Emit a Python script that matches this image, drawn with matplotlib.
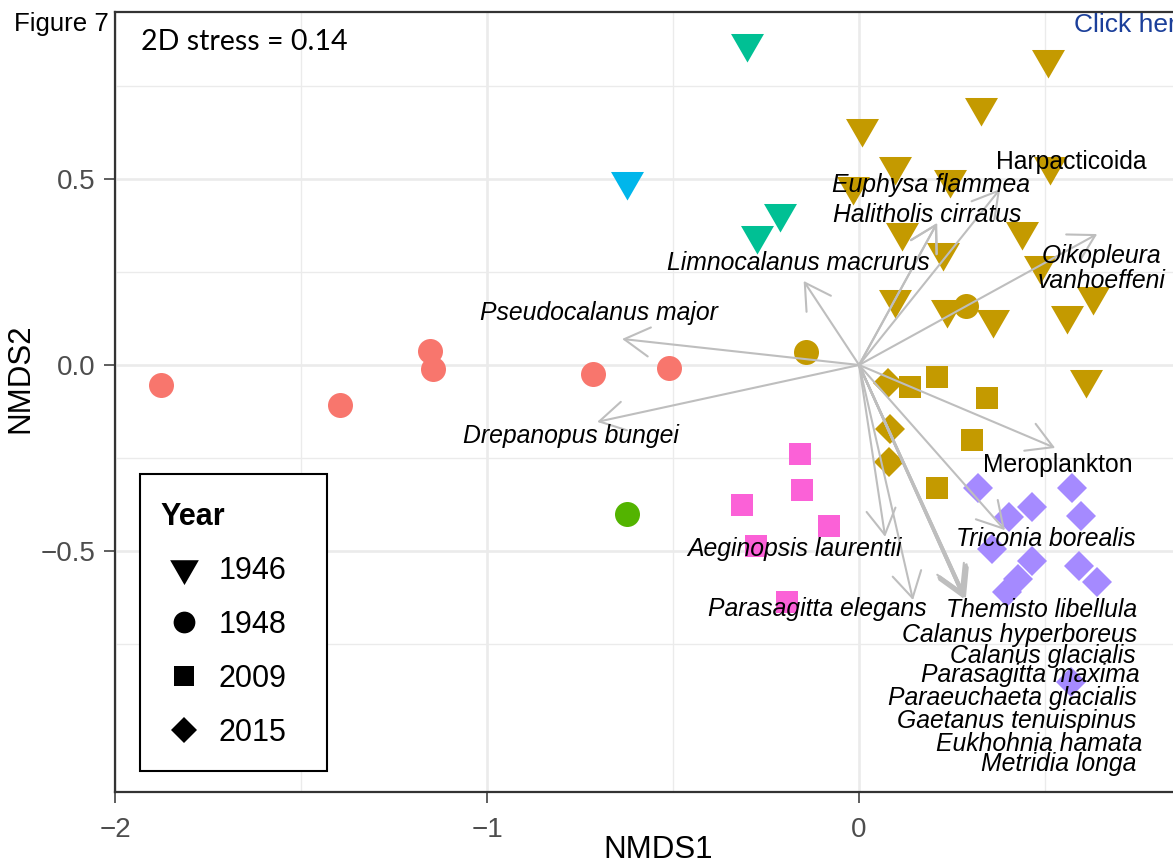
import numpy as np
import matplotlib
matplotlib.use("Agg")
import matplotlib.pyplot as plt
from matplotlib.lines import Line2D
from matplotlib.path import Path
from matplotlib.patches import Rectangle
from matplotlib.ticker import FixedLocator

plt.rcParams['font.family'] = ['Liberation Sans', 'DejaVu Sans']

# ---------------- data ----------------
years = ['1946', '1948', '2009', '2015']
group_colors = {'G1': '#F8766D', 'G2': '#C49A00', 'G3': '#53B400', 'G4': '#00C094',
                'G5': '#00B6EB', 'G6': '#A58AFF', 'G7': '#FB61D7'}

# 1946 (triangles)
x1946 = [0.508, 0.328, 0.008, 0.097, 0.245, -0.016, 0.513, 0.116, 0.226, 0.438, 0.487,
         0.097, 0.237, 0.360, 0.559, 0.629, 0.610,
         -0.301, -0.212, -0.274,
         -0.623]
y1946 = [0.822, 0.693, 0.637, 0.535, 0.500, 0.481, 0.535, 0.357, 0.303, 0.360, 0.268,
         0.177, 0.150, 0.123, 0.134, 0.185, -0.038,
         0.866, 0.408, 0.349,
         0.494]
g1946 = ['G2'] * 17 + ['G4'] * 3 + ['G5']

# 1948 (circles)
x1948 = [-1.876, -1.395, -1.153, -1.145, -0.715, -0.511, -0.624, -0.142, 0.288]
y1948 = [-0.054, -0.108, 0.038, -0.011, -0.024, -0.008, -0.401, 0.034, 0.159]
g1948 = ['G1'] * 6 + ['G3'] + ['G2'] * 2

# 2009 (squares)
x2009 = [0.137, 0.210, 0.344, 0.304, 0.210,
         -0.159, -0.153, -0.315, -0.081, -0.277, -0.194]
y2009 = [-0.059, -0.032, -0.089, -0.202, -0.331,
         -0.239, -0.336, -0.376, -0.433, -0.487, -0.637]
g2009 = ['G2'] * 5 + ['G7'] * 6

# 2015 (diamonds)
x2015 = [0.079, 0.083, 0.081,
         0.320, 0.403, 0.465, 0.573, 0.597, 0.358, 0.465, 0.591, 0.640, 0.427, 0.398, 0.570]
y2015 = [-0.049, -0.172, -0.260,
         -0.331, -0.409, -0.382, -0.331, -0.406, -0.495, -0.527, -0.540, -0.583, -0.575,
         -0.610, -0.852]
g2015 = ['G2'] * 3 + ['G6'] * 12

# species vectors (envfit arrows)
species = ['Pseudocalanus major', 'Drepanopus bungei', 'Limnocalanus macrurus',
           'Euphysa flammea', 'Halitholis cirratus', 'Harpacticoida',
           'Oikopleura\nvanhoeffeni', 'Meroplankton', 'Triconia borealis',
           'Aeginopsis laurentii', 'Parasagitta elegans', 'Themisto libellula',
           'Calanus hyperboreus', 'Calanus glacialis', 'Parasagitta maxima',
           'Paraeuchaeta glacialis', 'Gaetanus tenuispinus', 'Eukhohnia hamata',
           'Metridia longa']
italic = [True, True, True, True, True, False, True, False, True, True, True,
          True, True, True, True, True, True, True, True]
arrow_x = [-0.637, -0.704, -0.149, 0.209, 0.210, 0.379, 0.640, 0.527, 0.392, 0.070,
           0.145, 0.285, 0.280, 0.287, 0.276, 0.283, 0.279, 0.284, 0.281]
arrow_y = [0.070, -0.153, 0.226, 0.381, 0.382, 0.473, 0.352, -0.223, -0.444, -0.462,
           -0.632, -0.624, -0.620, -0.627, -0.615, -0.626, -0.623, -0.619, -0.628]
label_x = [-0.699, -0.774, -0.164, 0.194, 0.183, 0.570, 0.652, 0.535, 0.503, -0.173,
           -0.112, 0.491, 0.430, 0.495, 0.460, 0.411, 0.423, 0.483, 0.536]
label_y = [0.140, -0.192, 0.274, 0.483, 0.404, 0.547, 0.260, -0.268, -0.469, -0.494,
           -0.657, -0.659, -0.725, -0.782, -0.834, -0.895, -0.957, -1.018, -1.072]

stress_text = '2D stress = 0.14'

# ---------------- styling ----------------
s3 = 1.0 / np.sqrt(3.0)
tri_down = Path([(-1.0, s3), (1.0, s3), (0.0, -2 * s3), (-1.0, s3)],
                [Path.MOVETO, Path.LINETO, Path.LINETO, Path.CLOSEPOLY])
year_marker = {'1946': tri_down, '1948': 'o', '2009': 's', '2015': 'D'}
year_size = {'1946': 27.4, '1948': 18.0, '2009': 16.5, '2015': 15.3}

fig = plt.figure(figsize=(11.73, 8.64), dpi=100)
ax = fig.add_axes([115 / 1173, 72 / 864, 1086 / 1173, 780 / 864])
ax.set_xlim(-2.0, 0.919)
ax.set_ylim(-1.148, 0.949)

ax.set_xticks([-2, -1, 0])
ax.set_yticks([-0.5, 0.0, 0.5])
ax.xaxis.set_minor_locator(FixedLocator([-1.5, -0.5, 0.5]))
ax.yaxis.set_minor_locator(FixedLocator([-0.75, -0.25, 0.25, 0.75]))
ax.set_axisbelow(True)
ax.grid(which='major', color='#EBEBEB', lw=1.9)
ax.grid(which='minor', color='#EBEBEB', lw=0.95)
ax.tick_params(which='minor', length=0)
ax.tick_params(which='major', length=7.9, width=1.1, color='#333333',
               labelsize=20, labelcolor='#4D4D4D')
ax.tick_params(axis='x', pad=10.0)
ax.tick_params(axis='y', pad=6.5)
for sp in ax.spines.values():
    sp.set_color('#333333')
    sp.set_linewidth(1.6)

ax.set_xlabel('NMDS1', fontsize=22.5)
ax.set_ylabel('NMDS2', fontsize=22.5)
ax.xaxis.set_label_coords(0.5, -0.055)
ax.yaxis.set_label_coords(-0.0731, 0.531)

# points
data = {'1946': (x1946, y1946, g1946), '1948': (x1948, y1948, g1948),
        '2009': (x2009, y2009, g2009), '2015': (x2015, y2015, g2015)}
for yr in years:
    xs, ys, gs = data[yr]
    for gname in group_colors:
        idx = [i for i, g in enumerate(gs) if g == gname]
        if not idx:
            continue
        ax.plot([xs[i] for i in idx], [ys[i] for i in idx], ls='none',
                marker=year_marker[yr], ms=year_size[yr], mew=0,
                color=group_colors[gname], zorder=3)

# arrows
for ex, ey in zip(arrow_x, arrow_y):
    ax.annotate('', xy=(ex, ey), xytext=(0, 0),
                arrowprops=dict(arrowstyle='->,head_length=1.82,head_width=1.05',
                                mutation_scale=10, color='#BEBEBE', lw=1.5,
                                shrinkA=0, shrinkB=0),
                zorder=4)

# labels
for name, lx, ly, it in zip(species, label_x, label_y, italic):
    ax.text(lx, ly, name, fontsize=17.8, style='italic' if it else 'normal',
            ha='center', va='center', multialignment='center', linespacing=1.05,
            color='black', zorder=5)

ax.text(-1.930, 0.847, stress_text, fontsize=20.6, family=['Lato', 'DejaVu Sans'],
        ha='left', va='baseline', color='black', zorder=5)

# legend
frame = Rectangle((25 / 1086, 21 / 780), 187 / 1086, 297 / 780, transform=ax.transAxes,
                  facecolor='white', edgecolor='black', lw=1.5, zorder=6)
ax.add_patch(frame)
handles = [Line2D([], [], ls='none', marker=year_marker[y], ms=year_size[y] * 0.87,
                  mew=0, color='black') for y in years]
leg = ax.legend(handles, years, title='Year', loc='lower left',
                bbox_to_anchor=(25 / 1086, 24 / 780), borderaxespad=0,
                fontsize=22, title_fontproperties={'weight': 'bold', 'size': 22},
                alignment='left', frameon=False, borderpad=0.655, labelspacing=0.785,
                handlelength=1.57, handletextpad=0.34)
leg.set_zorder(7)

fig.text(14 / 1173, 1 - 31.5 / 864, 'Figure 7', fontsize=18.6, ha='left', va='baseline')
fig.text(1074 / 1173, 1 - 32.3 / 864, 'Click here', fontsize=19, ha='left',
         va='baseline', color='#1B3F9A')

fig.savefig('out.png', dpi=100)
